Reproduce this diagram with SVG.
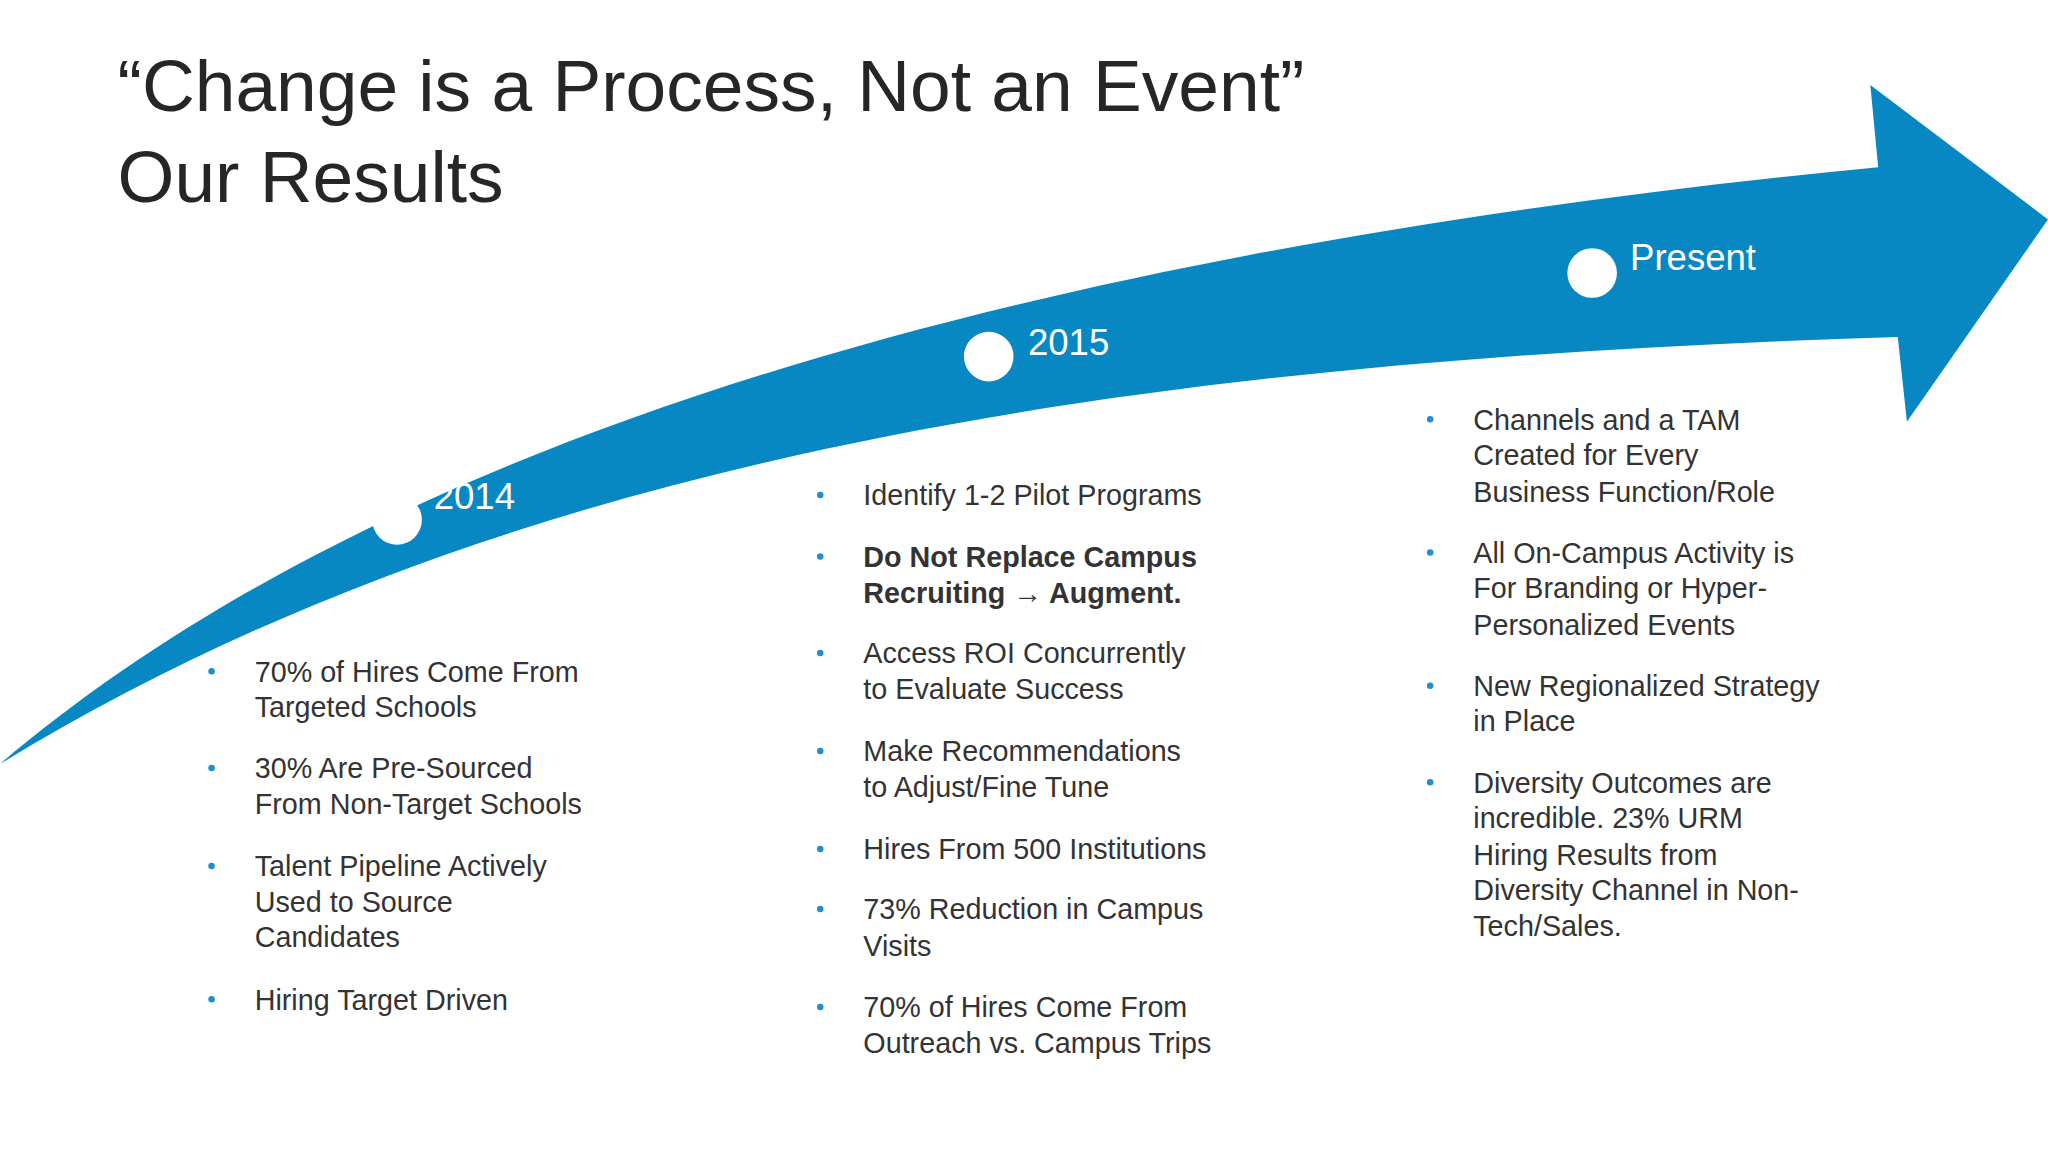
<svg xmlns="http://www.w3.org/2000/svg" width="2048" height="1152" viewBox="0 0 2048 1152">
<style>
.t{font-family:"Liberation Sans",Arial,sans-serif;font-size:22px;fill:#333}
.b{font-weight:bold}
.h{font-family:"Liberation Sans",Arial,sans-serif;font-size:56px;fill:#262626}
.y{font-family:"Liberation Sans",Arial,sans-serif;font-size:28px;fill:#fff}
.d{fill:#1e90d0}
</style>
<rect width="2048" height="1152" fill="#fff"/>
<g transform="scale(1.3061)">
<g id="title"><text class="h" x="90" y="85">“Change is a Process, Not an Event”</text><text class="h" x="90" y="155">Our Results</text></g>
<g id="arrow"><path d="M0,585 C300,330 800,190 1438,128 L1432,65 L1568,168 L1460,323 L1453,258 C900,275 400,340 0,585 Z" fill="#0888c3"/></g>
<g id="n2014"><circle cx="304" cy="398" r="19" fill="#fff"/><text class="y" x="332" y="390">2014</text></g>
<g id="n2015"><circle cx="757" cy="273" r="19" fill="#fff"/><text class="y" x="787" y="272">2015</text></g>
<g id="npresent"><circle cx="1219" cy="209" r="19" fill="#fff"/><text class="y" x="1248" y="207">Present</text></g>
<g id="col1">
<circle class="d" cx="162" cy="514" r="2.5"/><text class="t" x="195" y="522">70% of Hires Come From</text><text class="t" x="195" y="549">Targeted Schools</text>
<circle class="d" cx="162" cy="588" r="2.5"/><text class="t" x="195" y="596">30% Are Pre-Sourced</text><text class="t" x="195" y="623">From Non-Target Schools</text>
<circle class="d" cx="162" cy="663" r="2.5"/><text class="t" x="195" y="671">Talent Pipeline Actively</text><text class="t" x="195" y="698">Used to Source</text><text class="t" x="195" y="725">Candidates</text>
<circle class="d" cx="162" cy="765" r="2.5"/><text class="t" x="195" y="773">Hiring Target Driven</text>
</g>
<g id="col2">
<circle class="d" cx="628" cy="379" r="2.5"/><text class="t" x="661" y="387">Identify 1-2 Pilot Programs</text>
<circle class="d" cx="628" cy="426" r="2.5"/><text class="t b" x="661" y="434">Do Not Replace Campus</text><text class="t b" x="661" y="462">Recruiting → Augment.</text>
<circle class="d" cx="628" cy="500" r="2.5"/><text class="t" x="661" y="508">Access ROI Concurrently</text><text class="t" x="661" y="535">to Evaluate Success</text>
<circle class="d" cx="628" cy="575" r="2.5"/><text class="t" x="661" y="583">Make Recommendations</text><text class="t" x="661" y="610">to Adjust/Fine Tune</text>
<circle class="d" cx="628" cy="650" r="2.5"/><text class="t" x="661" y="658">Hires From 500 Institutions</text>
<circle class="d" cx="628" cy="696" r="2.5"/><text class="t" x="661" y="704">73% Reduction in Campus</text><text class="t" x="661" y="732">Visits</text>
<circle class="d" cx="628" cy="771" r="2.5"/><text class="t" x="661" y="779">70% of Hires Come From</text><text class="t" x="661" y="806">Outreach vs. Campus Trips</text>
</g>
<g id="col3">
<circle class="d" cx="1095" cy="321" r="2.5"/><text class="t" x="1128" y="329">Channels and a TAM</text><text class="t" x="1128" y="356">Created for Every</text><text class="t" x="1128" y="384">Business Function/Role</text>
<circle class="d" cx="1095" cy="423" r="2.5"/><text class="t" x="1128" y="431">All On-Campus Activity is</text><text class="t" x="1128" y="458">For Branding or Hyper-</text><text class="t" x="1128" y="486">Personalized Events</text>
<circle class="d" cx="1095" cy="525" r="2.5"/><text class="t" x="1128" y="533">New Regionalized Strategy</text><text class="t" x="1128" y="560">in Place</text>
<circle class="d" cx="1095" cy="599" r="2.5"/><text class="t" x="1128" y="607">Diversity Outcomes are</text><text class="t" x="1128" y="634">incredible. 23% URM</text><text class="t" x="1128" y="662">Hiring Results from</text><text class="t" x="1128" y="689">Diversity Channel in Non-</text><text class="t" x="1128" y="717">Tech/Sales.</text>
</g>
<g id="connectors"/>
</g>
</svg>
